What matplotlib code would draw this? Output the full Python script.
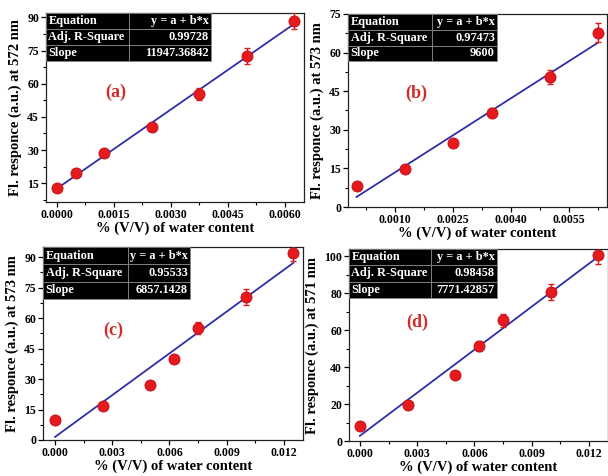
import matplotlib
matplotlib.use("Agg")
import matplotlib.pyplot as plt
import numpy as np
from matplotlib.ticker import FixedLocator, FormatStrFormatter

plt.rcParams['font.family'] = ['Liberation Serif', 'DejaVu Serif']
plt.rcParams['font.weight'] = 'bold'

# ---------------- data ----------------
xa = [0.0, 0.0005, 0.00125, 0.0025, 0.00375, 0.005, 0.00625]
ya = [12.9, 19.4, 28.6, 40.6, 55.3, 72.5, 88.6]
ea = [0.6, 0.8, 1.0, 1.8, 2.6, 3.6, 3.8]
slope_a, icpt_a, r2_a = 11947.36842, 12.5, "0.99728"

xb = [0.0, 0.00125, 0.0025, 0.0035, 0.005, 0.00625]
yb = [8.3, 14.7, 24.9, 36.7, 50.6, 67.8]
eb = [0.6, 0.8, 0.8, 1.6, 2.8, 3.8]
slope_b, icpt_b, r2_b = 9600, 3.9, "0.97473"

xc = [0.0, 0.0025, 0.005, 0.00625, 0.0075, 0.01, 0.0125]
yc = [10.0, 16.9, 27.2, 40.0, 55.0, 70.5, 92.0]
ec = [0.6, 0.8, 0.8, 1.8, 3.0, 4.0, 3.8]
slope_c, icpt_c, r2_c = 6857.1428, 1.5, "0.95533"

xd = [0.0, 0.0025, 0.005, 0.00625, 0.0075, 0.01, 0.0125]
yd = [8.3, 19.3, 35.7, 51.2, 65.3, 80.7, 100.8]
ed = [0.6, 0.8, 0.8, 2.7, 3.3, 4.2, 5.0]
slope_d, icpt_d, r2_d = 7771.42857, 2.8, "0.98458"

W, H = 608, 476
fig = plt.figure(figsize=(W / 100, H / 100), dpi=100)

def axes_px(l, t, r, b):
    return fig.add_axes([l / W, 1 - b / H, (r - l) / W, (b - t) / H])

RED = '#e41a1c'
BLUE = '#2e2ea8'

def panel(ax, x, y, e, slope, icpt, r2, label, ylabel, xlim, ylim,
          xmaj, xmin, ymaj, ymin, xfmt, tbl_w, col_frac, tbl_h, lab_pos):
    x = np.asarray(x)
    xf = np.array([x.min(), x.max()])
    ax.plot(xf, icpt + slope * xf, color=BLUE, lw=1.3, zorder=2)
    ax.errorbar(x, y, yerr=e, fmt='none', ecolor=RED, elinewidth=1.0,
                capsize=2.5, capthick=1.0, zorder=3)
    ax.plot(x, y, 'o', color=RED, markersize=8, markeredgecolor='#c0101a',
            markeredgewidth=0.6, zorder=4)
    ax.set_xlim(*xlim)
    ax.set_ylim(*ylim)
    ax.xaxis.set_major_locator(FixedLocator(xmaj))
    ax.xaxis.set_minor_locator(FixedLocator(xmin))
    ax.yaxis.set_major_locator(FixedLocator(ymaj))
    ax.yaxis.set_minor_locator(FixedLocator(ymin))
    ax.xaxis.set_major_formatter(FormatStrFormatter(xfmt))
    ax.yaxis.set_major_formatter(FormatStrFormatter('%d'))
    ax.tick_params(which='major', direction='out', length=3.5, width=0.9,
                   labelsize=8.5, pad=1.5)
    ax.tick_params(which='minor', direction='out', length=2, width=0.8)
    for lbl in ax.get_xticklabels() + ax.get_yticklabels():
        lbl.set_fontweight('bold')
    for s in ax.spines.values():
        s.set_linewidth(0.9)
        s.set_color('#222222')
    ax.set_xlabel('% (V/V) of water content', fontsize=10.5, fontweight='bold',
                  labelpad=0.5)
    ax.set_ylabel(ylabel, fontsize=10.5, fontweight='bold', labelpad=4)
    # table
    cells = [['Equation', 'y = a + b*x'],
             ['Adj. R-Square', r2],
             ['Slope', f'{slope:g}' if slope == int(slope) else str(slope)]]
    tb = ax.table(cellText=cells, bbox=[0, 1 - tbl_h, tbl_w, tbl_h],
                  colWidths=[col_frac, 1 - col_frac], zorder=5)
    tb.auto_set_font_size(False)
    for (r, c), cell in tb.get_celld().items():
        cell.set_facecolor('black')
        cell.set_edgecolor('#888888')
        cell.set_linewidth(0.6)
        t = cell.get_text()
        t.set_color('white')
        t.set_fontsize(8.8)
        t.set_fontweight('bold')
        t.set_fontfamily(['Liberation Serif'])
        if c == 0:
            cell._loc = 'left'
            t.set_ha('left')
        else:
            cell._loc = 'right'
            t.set_ha('right')
        cell.PAD = 0.03
    ax.text(lab_pos[0], lab_pos[1], label, transform=ax.transAxes,
            color='#d42a2a', fontsize=13, fontweight='bold',
            ha='center', va='center')

ax_a = axes_px(46, 13, 304, 202)
panel(ax_a, xa, ya, ea, slope_a, icpt_a, r2_a, '(a)',
      'Fl. responce (a.u.) at 572 nm', (-0.00028, 0.0065), (6.5, 92),
      [0, 0.0015, 0.003, 0.0045, 0.006],
      [0.00075, 0.00225, 0.00375, 0.00525], [15, 30, 45, 60, 75, 90],
      [7.5, 22.5, 37.5, 52.5, 67.5, 82.5], '%.4f', 0.64, 0.5, 0.254,
      (0.27, 0.58))

ax_b = axes_px(348, 14, 607, 207)
panel(ax_b, xb, yb, eb, slope_b, icpt_b, r2_b, '(b)',
      'Fl. responce (a.u.) at 573 nm', (-0.00022, 0.00648), (0, 75),
      [0.001, 0.0025, 0.004, 0.0055],
      [0.00025, 0.00175, 0.00325, 0.00475, 0.00625],
      [0, 15, 30, 45, 60, 75], [7.5, 22.5, 37.5, 52.5, 67.5], '%.4f',
      0.575, 0.565, 0.245, (0.265, 0.59))

ax_c = axes_px(43, 247, 303, 440)
panel(ax_c, xc, yc, ec, slope_c, icpt_c, r2_c, '(c)',
      'Fl. responce (a.u.) at 573 nm', (-0.00063, 0.0130), (0, 95),
      [0, 0.003, 0.006, 0.009, 0.012],
      [0.0015, 0.0045, 0.0075, 0.0105], [0, 15, 30, 45, 60, 75, 90],
      [7.5, 22.5, 37.5, 52.5, 67.5, 82.5], '%.3f', 0.565, 0.58, 0.27,
      (0.27, 0.57))

ax_d = axes_px(349, 249, 608, 441)
panel(ax_d, xd, yd, ed, slope_d, icpt_d, r2_d, '(d)',
      'Fl. responce (a.u.) at 571 nm', (-0.00057, 0.0130), (0, 104),
      [0, 0.003, 0.006, 0.009, 0.012],
      [0.0015, 0.0045, 0.0075, 0.0105], [0, 20, 40, 60, 80, 100],
      [10, 30, 50, 70, 90], '%.3f', 0.57, 0.555, 0.255,
      (0.265, 0.62))

fig.savefig('out.png', dpi=100)
